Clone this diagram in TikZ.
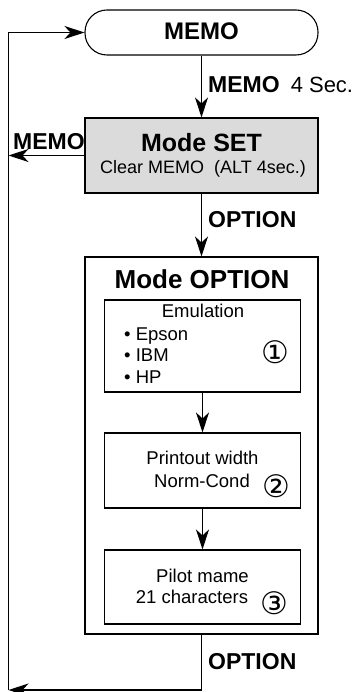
\documentclass[tikz,border=0pt]{standalone}
\usepackage{fontspec}
\setmainfont{Liberation Sans}
\newfontfamily\symfont{DejaVu Sans}
\usetikzlibrary{arrows.meta}
\tikzset{
  frame/.style={draw, line width=1.1pt, inner sep=0pt},
  arr/.style={line width=1.1pt, -{Stealth[length=20pt,width=13pt,inset=6pt]}},
  ln/.style={line width=1.1pt},
  txt/.style={inner sep=0pt, anchor=base},
  bigb/.style={txt, font=\bfseries\fontsize{25}{25}\selectfont},
  labb/.style={txt, font=\bfseries\fontsize{23}{23}\selectfont},
  reg/.style={txt, font=\fontsize{18.5}{18.5}\selectfont},
  circ/.style={inner sep=0pt, font=\symfont\fontsize{31}{31}\selectfont}
}
\begin{document}
\begin{tikzpicture}[x=1pt,y=-1pt]
\useasboundingbox (0,0) rectangle (361,692);
% boxes
\node[frame, rounded corners=22pt, minimum width=233pt, minimum height=45pt] (memo) at (201.5,32.5) {};
\node[frame, fill=black!14, minimum width=233pt, minimum height=75pt] (set) at (201.5,155.5) {};
\node[frame, minimum width=233pt, minimum height=377pt] (opt) at (201.5,445.5) {};
\node[frame, minimum width=196pt, minimum height=92pt] (emu) at (202.5,346) {};
\node[frame, minimum width=196pt, minimum height=75pt] (pw) at (202.5,470.5) {};
\node[frame, minimum width=196pt, minimum height=74pt] (pil) at (202.5,587) {};
% texts
\node[labb, font=\bfseries\fontsize{24}{24}\selectfont] (memot) at (201.5,39.5) {MEMO};
\node[labb, anchor=base west] (l1) at (208,93) {MEMO\hspace{11pt}\mdseries\fontsize{22}{22}\selectfont 4 Sec.};
\node[bigb] (sett) at (201.5,152) {Mode SET};
\node[txt, anchor=base west, font=\fontsize{18}{18}\selectfont] (setc) at (100,174) {Clear MEMO\ \ (ALT 4sec.)};
\node[labb, anchor=base west] (l2) at (13,150) {MEMO};
\node[labb, anchor=base west] (l3) at (208,228) {OPTION};
\node[bigb, font=\bfseries\fontsize{26}{26}\selectfont] (optt) at (202,288) {Mode OPTION};
\node[reg] (emut) at (203,317.5) {Emulation};
\node[reg, anchor=base west] (e1) at (124,340) {\textbullet\ Epson};
\node[reg, anchor=base west] (e2) at (124,361.5) {\textbullet\ IBM};
\node[reg, anchor=base west] (e3) at (124,383) {\textbullet\ HP};
\node[circ] (c1) at (275,352.5) {①};
\node[reg] (pwt) at (202.5,464) {Printout width};
\node[reg] (pwc) at (202,487) {Norm-Cond};
\node[circ] (c2) at (276,486) {②};
\node[reg] (pilt) at (202.5,582) {Pilot mame};
\node[reg] (pilc) at (192,603) {21 characters};
\node[circ] (c3) at (274,603) {③};
\node[labb, anchor=base west] (l4) at (208,669) {OPTION};
% connectors
\coordinate (lt) at (8.5,32.5);
\coordinate (lb) at (8.5,690);
\draw[arr] (memo) -- (set);
\draw[arr] (set) -- (opt);
\draw[arr] (emu) -- (pw);
\draw[arr] (pw) -- (pil);
\draw[ln] (lb) -- (lt);
\draw[arr] (lt) -- (memo.west);
\draw[arr] (set.west) -- (set.west -| lt);
\draw[arr] (opt.south) |- (lb);
\end{tikzpicture}
\end{document}
